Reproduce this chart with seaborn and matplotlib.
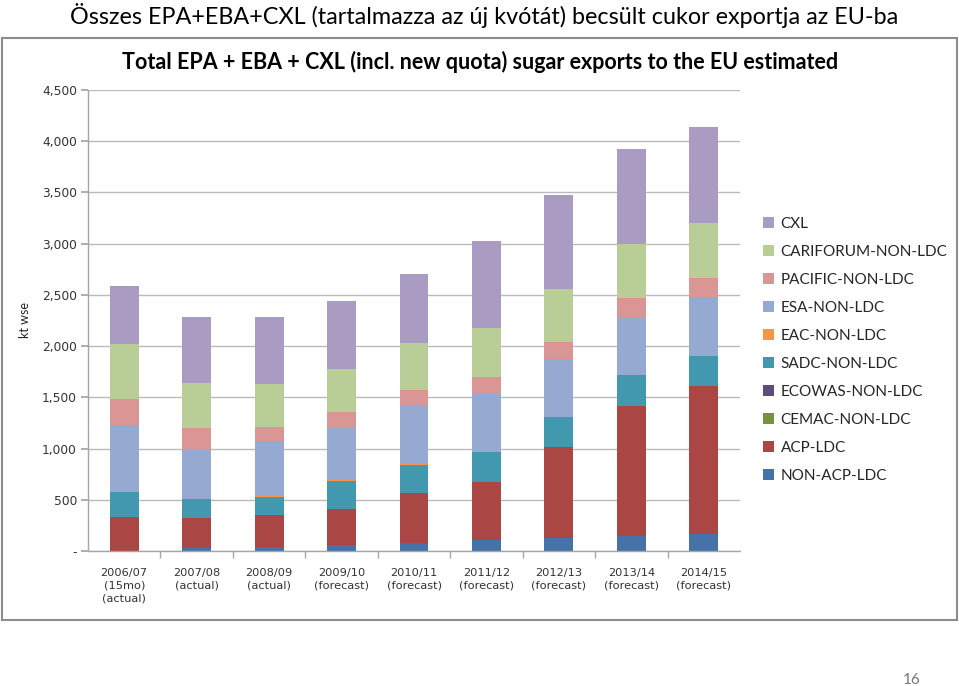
import matplotlib
matplotlib.use("Agg")
import matplotlib.pyplot as plt
from matplotlib.patches import Patch, Rectangle
import numpy as np
import pandas as pd
import seaborn as sns

categories = ["2006/07\n(15mo)\n(actual)", "2007/08\n(actual)", "2008/09\n(actual)",
              "2009/10\n(forecast)", "2010/11\n(forecast)", "2011/12\n(forecast)",
              "2012/13\n(forecast)", "2013/14\n(forecast)", "2014/15\n(forecast)"]

non_acp_ldc = [0, 26, 36, 59, 75, 107, 130, 150, 163]
acp_ldc = [335, 293, 316, 348, 488, 567, 883, 1266, 1445]
cemac = [0, 0, 0, 0, 0, 0, 0, 0, 0]
ecowas = [0, 0, 0, 0, 0, 0, 0, 0, 0]
sadc = [238, 186, 178, 280, 277, 293, 292, 300, 299]
eac = [0, 0, 5, 8, 8, 0, 0, 0, 0]
esa = [660, 481, 542, 519, 571, 566, 573, 572, 576]
pacific = [248, 215, 137, 147, 153, 169, 166, 179, 186]
cariforum = [540, 443, 417, 413, 456, 473, 515, 528, 531]
cxl = [567, 644, 657, 671, 674, 852, 918, 928, 938]

series_names = ["NON-ACP-LDC", "ACP-LDC", "CEMAC-NON-LDC", "ECOWAS-NON-LDC", "SADC-NON-LDC",
                "EAC-NON-LDC", "ESA-NON-LDC", "PACIFIC-NON-LDC", "CARIFORUM-NON-LDC", "CXL"]
series_values = [non_acp_ldc, acp_ldc, cemac, ecowas, sadc, eac, esa, pacific, cariforum, cxl]
colors = ["#4572A7", "#AA4643", "#77933C", "#604A7B", "#4198AF",
          "#F79646", "#95A9D1", "#D99694", "#B9CD96", "#A99BC1"]

y_ticks = [0, 500, 1000, 1500, 2000, 2500, 3000, 3500, 4000, 4500]
y_ticklabels = ["-", "500", "1,000", "1,500", "2,000", "2,500", "3,000", "3,500", "4,000", "4,500"]

sns.set_theme(style="white")
plt.rcParams["font.family"] = ["Lato", "DejaVu Sans"]

W, H = 959, 686
fig = plt.figure(figsize=(W / 100, H / 100), dpi=100)

# page title
fig.text(484 / W, 1 - 15 / H, "Összes EPA+EBA+CXL (tartalmazza az új kvótát) becsült cukor exportja az EU-ba",
         ha="center", va="center", fontsize=16.8, color="black")

# chart box
fig.patches.append(Rectangle((2 / W, 1 - 620 / H), 955 / W, 582 / H, transform=fig.transFigure,
                             fill=False, edgecolor="#8C8C8C", linewidth=1.5))

fig.text(480 / W, 1 - 62 / H, "Total EPA + EBA + CXL (incl. new quota) sugar exports to the EU estimated",
         ha="center", va="center", fontsize=15.5, fontweight="bold", color="black")

ax = fig.add_axes([88 / W, 1 - 551 / H, (740 - 88) / W, (551 - 90) / H])

bottom = np.zeros(len(categories))
for name, vals, col in zip(series_names, series_values, colors):
    df = pd.DataFrame({"cat": categories, "val": vals})
    sns.barplot(data=df, x="cat", y="val", color=col, width=0.4, bottom=bottom,
                ax=ax, saturation=1, linewidth=0, errorbar=None)
    bottom = bottom + np.array(vals, dtype=float)

ax.set_ylim(0, 4500)
ax.set_xlim(-0.5, len(categories) - 0.5)
ax.set_yticks(y_ticks)
ax.set_yticklabels(y_ticklabels, fontfamily="DejaVu Sans")
ax.set_xlabel("")
ax.set_ylabel("")
fig.text(25 / W, 1 - 320 / H, "kt wse", rotation=90, ha="center", va="center",
         fontsize=9, color="#222222")
ax.yaxis.grid(True, color="#BBBBBB", linewidth=1)
ax.set_axisbelow(True)
for s in ["top", "right"]:
    ax.spines[s].set_visible(False)
for s in ["left", "bottom"]:
    ax.spines[s].set_color("#A6A6A6")
    ax.spines[s].set_linewidth(1)
ax.tick_params(axis="y", which="major", left=True, length=5, color="#A6A6A6",
               labelsize=8.8, labelcolor="#333333", pad=3)
ax.set_xticks(range(len(categories)))
ax.set_xticklabels(categories, fontsize=8.2, color="#333333", linespacing=1.38,
                   fontfamily="DejaVu Sans")
ax.tick_params(axis="x", which="major", bottom=False, pad=6)
ax.set_xticks(np.arange(0.5, len(categories) - 0.5, 1), minor=True)
ax.tick_params(axis="x", which="minor", bottom=True, length=5, color="#A6A6A6")

handles = [Patch(facecolor=c, edgecolor="none", label=n) for n, c in zip(series_names, colors)][::-1]
fig.legend(handles=handles, loc="upper left", bbox_to_anchor=(757 / W, 1 - 211 / H),
           frameon=False, fontsize=11, handlelength=0.7, handleheight=0.7,
           handletextpad=0.45, labelspacing=0.915, borderaxespad=0)

fig.text(912 / W, 1 - 680 / H, "16", ha="center", va="center", fontsize=11, color="#777777")

fig.savefig("out.png", dpi=100, facecolor="white")
